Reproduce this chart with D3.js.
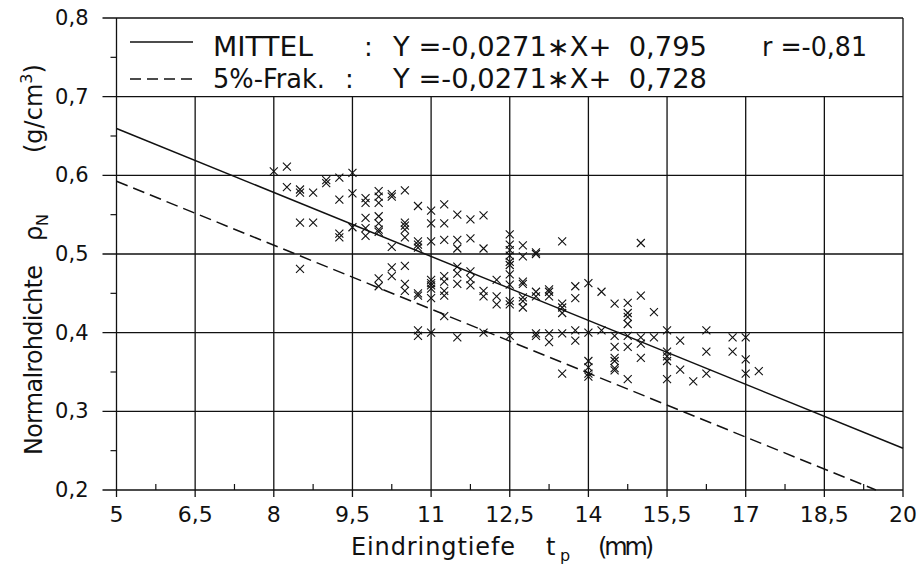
<!DOCTYPE html>
<html>
<head>
<meta charset="utf-8">
<script src="https://cdn.jsdelivr.net/npm/d3@7"></script>
<style>
  body { margin: 0; background: #fff; }
  svg text { font-family: "DejaVu Sans", sans-serif; fill: #111; white-space: pre; }
</style>
</head>
<body>
<div class="chart"></div>
<script>
// penetration depth (mm) and normal density (g/cm3)
var depth = [
  8.0, 8.25, 8.25, 8.5, 8.5, 8.75, 9.0, 9.0, 9.25, 9.25, 9.5, 9.5,
  8.5, 8.75, 9.25, 9.25, 9.5, 8.5,
  9.75, 9.75, 10.0, 10.0, 10.0, 10.25, 10.25, 10.5,
  9.75, 9.75, 9.75, 10.0, 10.0, 10.0, 10.0, 10.25, 10.5, 10.5, 10.5, 10.5,
  10.75, 10.75, 10.75, 10.75, 11.0, 11.0, 11.0, 11.25, 11.25, 11.25,
  11.5, 11.5, 11.5, 11.75, 11.75, 12.0, 12.0,
  12.5, 12.5, 12.5, 12.5, 12.5, 12.5,
  10.25, 10.25, 10.5, 10.0, 11.0, 11.25, 11.5, 11.5, 11.75, 11.75, 12.25,
  12.75, 12.75, 13.0, 13.0, 13.5, 15.0,
  10.0, 10.5, 10.5, 10.75, 10.75, 11.0, 11.0, 11.0, 11.0,
  11.25, 11.25, 11.25, 11.25, 11.5, 11.75, 12.0, 12.0, 12.25, 12.25, 12.5, 12.5,
  10.75, 10.75, 11.0, 11.5, 12.0, 12.5,
  12.5, 12.5, 12.75, 12.75, 12.75, 12.75, 12.75, 13.0, 13.0, 13.25, 13.25, 13.25,
  13.5, 13.5, 13.5, 13.75, 13.75, 14.0, 14.25, 14.5, 14.75, 14.75, 14.75, 14.75,
  15.0, 15.25,
  13.0, 13.0, 13.25, 13.25, 13.5, 13.75, 13.75, 14.0, 14.25,
  14.5, 14.5, 14.5, 14.5, 14.5, 14.5, 14.75, 14.75,
  15.0, 15.0, 15.0, 15.25, 15.5, 15.5, 15.5, 15.5, 15.5, 15.75, 15.75, 16.0,
  16.25, 16.25, 16.25, 16.75, 16.75, 17.0, 17.0, 17.0, 17.25,
  13.5, 14.0, 14.0, 14.0, 14.0, 14.75
];
var density = [
  0.605, 0.611, 0.585, 0.578, 0.582, 0.578, 0.590, 0.594, 0.597, 0.569, 0.603, 0.577,
  0.540, 0.540, 0.521, 0.526, 0.534, 0.481,
  0.571, 0.565, 0.580, 0.573, 0.565, 0.576, 0.573, 0.581,
  0.546, 0.533, 0.523, 0.548, 0.539, 0.531, 0.528, 0.509, 0.540, 0.536, 0.531, 0.521,
  0.561, 0.516, 0.512, 0.508, 0.555, 0.539, 0.516, 0.563, 0.539, 0.518,
  0.550, 0.518, 0.507, 0.544, 0.520, 0.549, 0.507,
  0.525, 0.512, 0.505, 0.498, 0.490, 0.486,
  0.483, 0.472, 0.485, 0.469, 0.467, 0.472, 0.484, 0.475, 0.478, 0.468, 0.467,
  0.511, 0.497, 0.500, 0.502, 0.516, 0.514,
  0.459, 0.462, 0.453, 0.447, 0.450, 0.463, 0.460, 0.456, 0.444,
  0.465, 0.453, 0.447, 0.421, 0.462, 0.460, 0.453, 0.446, 0.446, 0.436, 0.461, 0.440,
  0.403, 0.396, 0.400, 0.394, 0.400, 0.396,
  0.474, 0.436, 0.462, 0.465, 0.445, 0.440, 0.432, 0.452, 0.446, 0.452, 0.455, 0.446,
  0.437, 0.432, 0.425, 0.459, 0.444, 0.463, 0.452, 0.437, 0.438, 0.425, 0.420, 0.411,
  0.447, 0.426,
  0.396, 0.399, 0.399, 0.388, 0.399, 0.403, 0.390, 0.400, 0.403,
  0.396, 0.382, 0.368, 0.364, 0.355, 0.352, 0.382, 0.396,
  0.394, 0.386, 0.368, 0.394, 0.403, 0.376, 0.370, 0.364, 0.341, 0.390, 0.353, 0.338,
  0.403, 0.376, 0.348, 0.394, 0.376, 0.394, 0.366, 0.348, 0.351,
  0.348, 0.364, 0.356, 0.348, 0.344, 0.341
];

var xTicks = [5, 6.5, 8, 9.5, 11, 12.5, 14, 15.5, 17, 18.5, 20],
    xMinor = [5.75, 7.25, 8.75, 10.25, 11.75, 13.25, 14.75, 16.25, 17.75, 19.25],
    yTicks = [0.2, 0.3, 0.4, 0.5, 0.6, 0.7, 0.8],
    yMinor = [0.25, 0.35, 0.45, 0.55, 0.65, 0.75];

// regression lines from the legend
var slope = -0.0271,
    icptMean = 0.795,
    icptFrac = 0.728;

var outerWidth = 917,
    outerHeight = 570,
    plot = {left: 116.5, right: 903, top: 18, bottom: 490};

var de = d3.formatLocale({decimal: ",", thousands: ".", grouping: [3], currency: ["", ""]}),
    xFormat = de.format("~r"),
    yFormat = de.format(".1f");

var xScale = d3.scaleLinear().domain([5, 20]).range([plot.left, plot.right]),
    yScale = d3.scaleLinear().domain([0.2, 0.8]).range([plot.bottom, plot.top]);

var svg = d3.select(".chart").append("svg")
    .attr("width", outerWidth)
    .attr("height", outerHeight);

var ink = "#111";

// horizontal grid (each 0.1), extended left as ticks
svg.append("g").attr("class", "ygrid")
  .selectAll("line").data(yTicks)
  .enter().append("line")
    .attr("x1", plot.left - 14).attr("x2", plot.right)
    .attr("y1", function(d) { return yScale(d); })
    .attr("y2", function(d) { return yScale(d); })
    .style("stroke", ink).style("stroke-width", 1.4);

// vertical grid below the legend box, extended down as ticks
svg.append("g").attr("class", "xgrid")
  .selectAll("line").data(xTicks)
  .enter().append("line")
    .attr("x1", function(d) { return xScale(d); })
    .attr("x2", function(d) { return xScale(d); })
    .attr("y1", function(d) { return (d == 5 || d == 20) ? plot.top : yScale(0.7); })
    .attr("y2", plot.bottom + 7)
    .style("stroke", ink).style("stroke-width", 1.3);

// minor ticks
svg.append("g").selectAll("line").data(xMinor)
  .enter().append("line")
    .attr("x1", function(d) { return xScale(d); })
    .attr("x2", function(d) { return xScale(d); })
    .attr("y1", plot.bottom - 6).attr("y2", plot.bottom)
    .style("stroke", ink).style("stroke-width", 1.2);

svg.append("g").selectAll("line").data(yMinor)
  .enter().append("line")
    .attr("x1", plot.left - 6).attr("x2", plot.left)
    .attr("y1", function(d) { return yScale(d); })
    .attr("y2", function(d) { return yScale(d); })
    .style("stroke", ink).style("stroke-width", 1.2);

// tick labels
svg.append("g").attr("class", "yLabels")
  .selectAll("text").data(yTicks)
  .enter().append("text")
    .attr("x", 88.5)
    .attr("y", function(d) { return yScale(d) + 7; })
    .attr("text-anchor", "end")
    .style("font-size", "21px")
    .text(function(d) { return yFormat(d); });

svg.append("g").attr("class", "xLabels")
  .selectAll("text").data(xTicks)
  .enter().append("text")
    .attr("x", function(d) { return xScale(d); })
    .attr("y", 522)
    .attr("text-anchor", "middle")
    .style("font-size", "22px")
    .text(function(d) { return xFormat(d); });

// regression lines
function lineEnds(b) {
  var xEnd = Math.min(20, (0.2 - b) / slope);
  return [[5, slope * 5 + b], [xEnd, slope * xEnd + b]];
}
var line = d3.line()
    .x(function(d) { return xScale(d[0]); })
    .y(function(d) { return yScale(d[1]); });

svg.append("path")
    .attr("d", line(lineEnds(icptMean)))
    .style("fill", "none").style("stroke", ink).style("stroke-width", 1.5);

svg.append("path")
    .attr("d", line(lineEnds(icptFrac)))
    .style("fill", "none").style("stroke", ink).style("stroke-width", 1.5)
    .style("stroke-dasharray", "12,6");

// scatter crosses
var s = 4;
svg.append("g").attr("class", "points")
  .selectAll("path").data(depth)
  .enter().append("path")
    .attr("d", function(d, i) {
      var cx = xScale(d), cy = yScale(density[i]);
      return "M" + (cx - s) + "," + (cy - s) + "L" + (cx + s) + "," + (cy + s) +
             "M" + (cx - s) + "," + (cy + s) + "L" + (cx + s) + "," + (cy - s);
    })
    .style("stroke", ink).style("stroke-width", 1.1).style("fill", "none");

// legend
svg.append("line")
    .attr("x1", 130).attr("x2", 193).attr("y1", 42).attr("y2", 42)
    .style("stroke", ink).style("stroke-width", 1.5);
svg.append("line")
    .attr("x1", 130).attr("x2", 193).attr("y1", 79).attr("y2", 79)
    .style("stroke", ink).style("stroke-width", 1.5)
    .style("stroke-dasharray", "11,6");

var legendText = [
  {t: "MITTEL", x: 213, y: 56, w: 100},
  {t: ":", x: 364, y: 56},
  {t: "Y =-0,0271\u2217X+  0,795", x: 393, y: 56, w: 314},
  {t: "r =-0,81", x: 762, y: 56, w: 105},
  {t: "5%-Frak.", x: 213, y: 88, w: 112},
  {t: ":", x: 345, y: 88},
  {t: "Y =-0,0271\u2217X+  0,728", x: 393, y: 88, w: 314}
];
svg.append("g").attr("class", "legend")
  .selectAll("text").data(legendText)
  .enter().append("text")
    .attr("x", function(d) { return d.x; })
    .attr("y", function(d) { return d.y; })
    .attr("textLength", function(d) { return d.w ? d.w : null; })
    .attr("lengthAdjust", "spacingAndGlyphs")
    .style("font-size", "26px")
    .text(function(d) { return d.t; });

// axis titles
var xt = svg.append("text")
    .attr("y", 555)
    .style("font-size", "24px");
xt.append("tspan").attr("x", 351).attr("textLength", 164).text("Eindringtiefe");
xt.append("tspan").attr("x", 546).text("t");
xt.append("tspan").attr("x", 560).attr("dy", 6).style("font-size", "16px").text("p");
xt.append("tspan").attr("x", 598).attr("dy", -6).attr("textLength", 56).text("(mm)");

var yt = svg.append("text")
    .attr("transform", "translate(42,455) rotate(-90)")
    .style("font-size", "24px");
yt.append("tspan").attr("x", 0).attr("y", 0).attr("textLength", 190).text("Normalrohdichte");
yt.append("tspan").attr("x", 214).attr("y", 0).text("\u03c1");
yt.append("tspan").attr("x", 229).attr("y", 6).style("font-size", "16px").text("N");
yt.append("tspan").attr("x", 302).attr("y", 0).text("(g/cm");
yt.append("tspan").attr("y", -10).style("font-size", "16px").text("3");
yt.append("tspan").attr("y", 0).text(")");
</script>
</body>
</html>
